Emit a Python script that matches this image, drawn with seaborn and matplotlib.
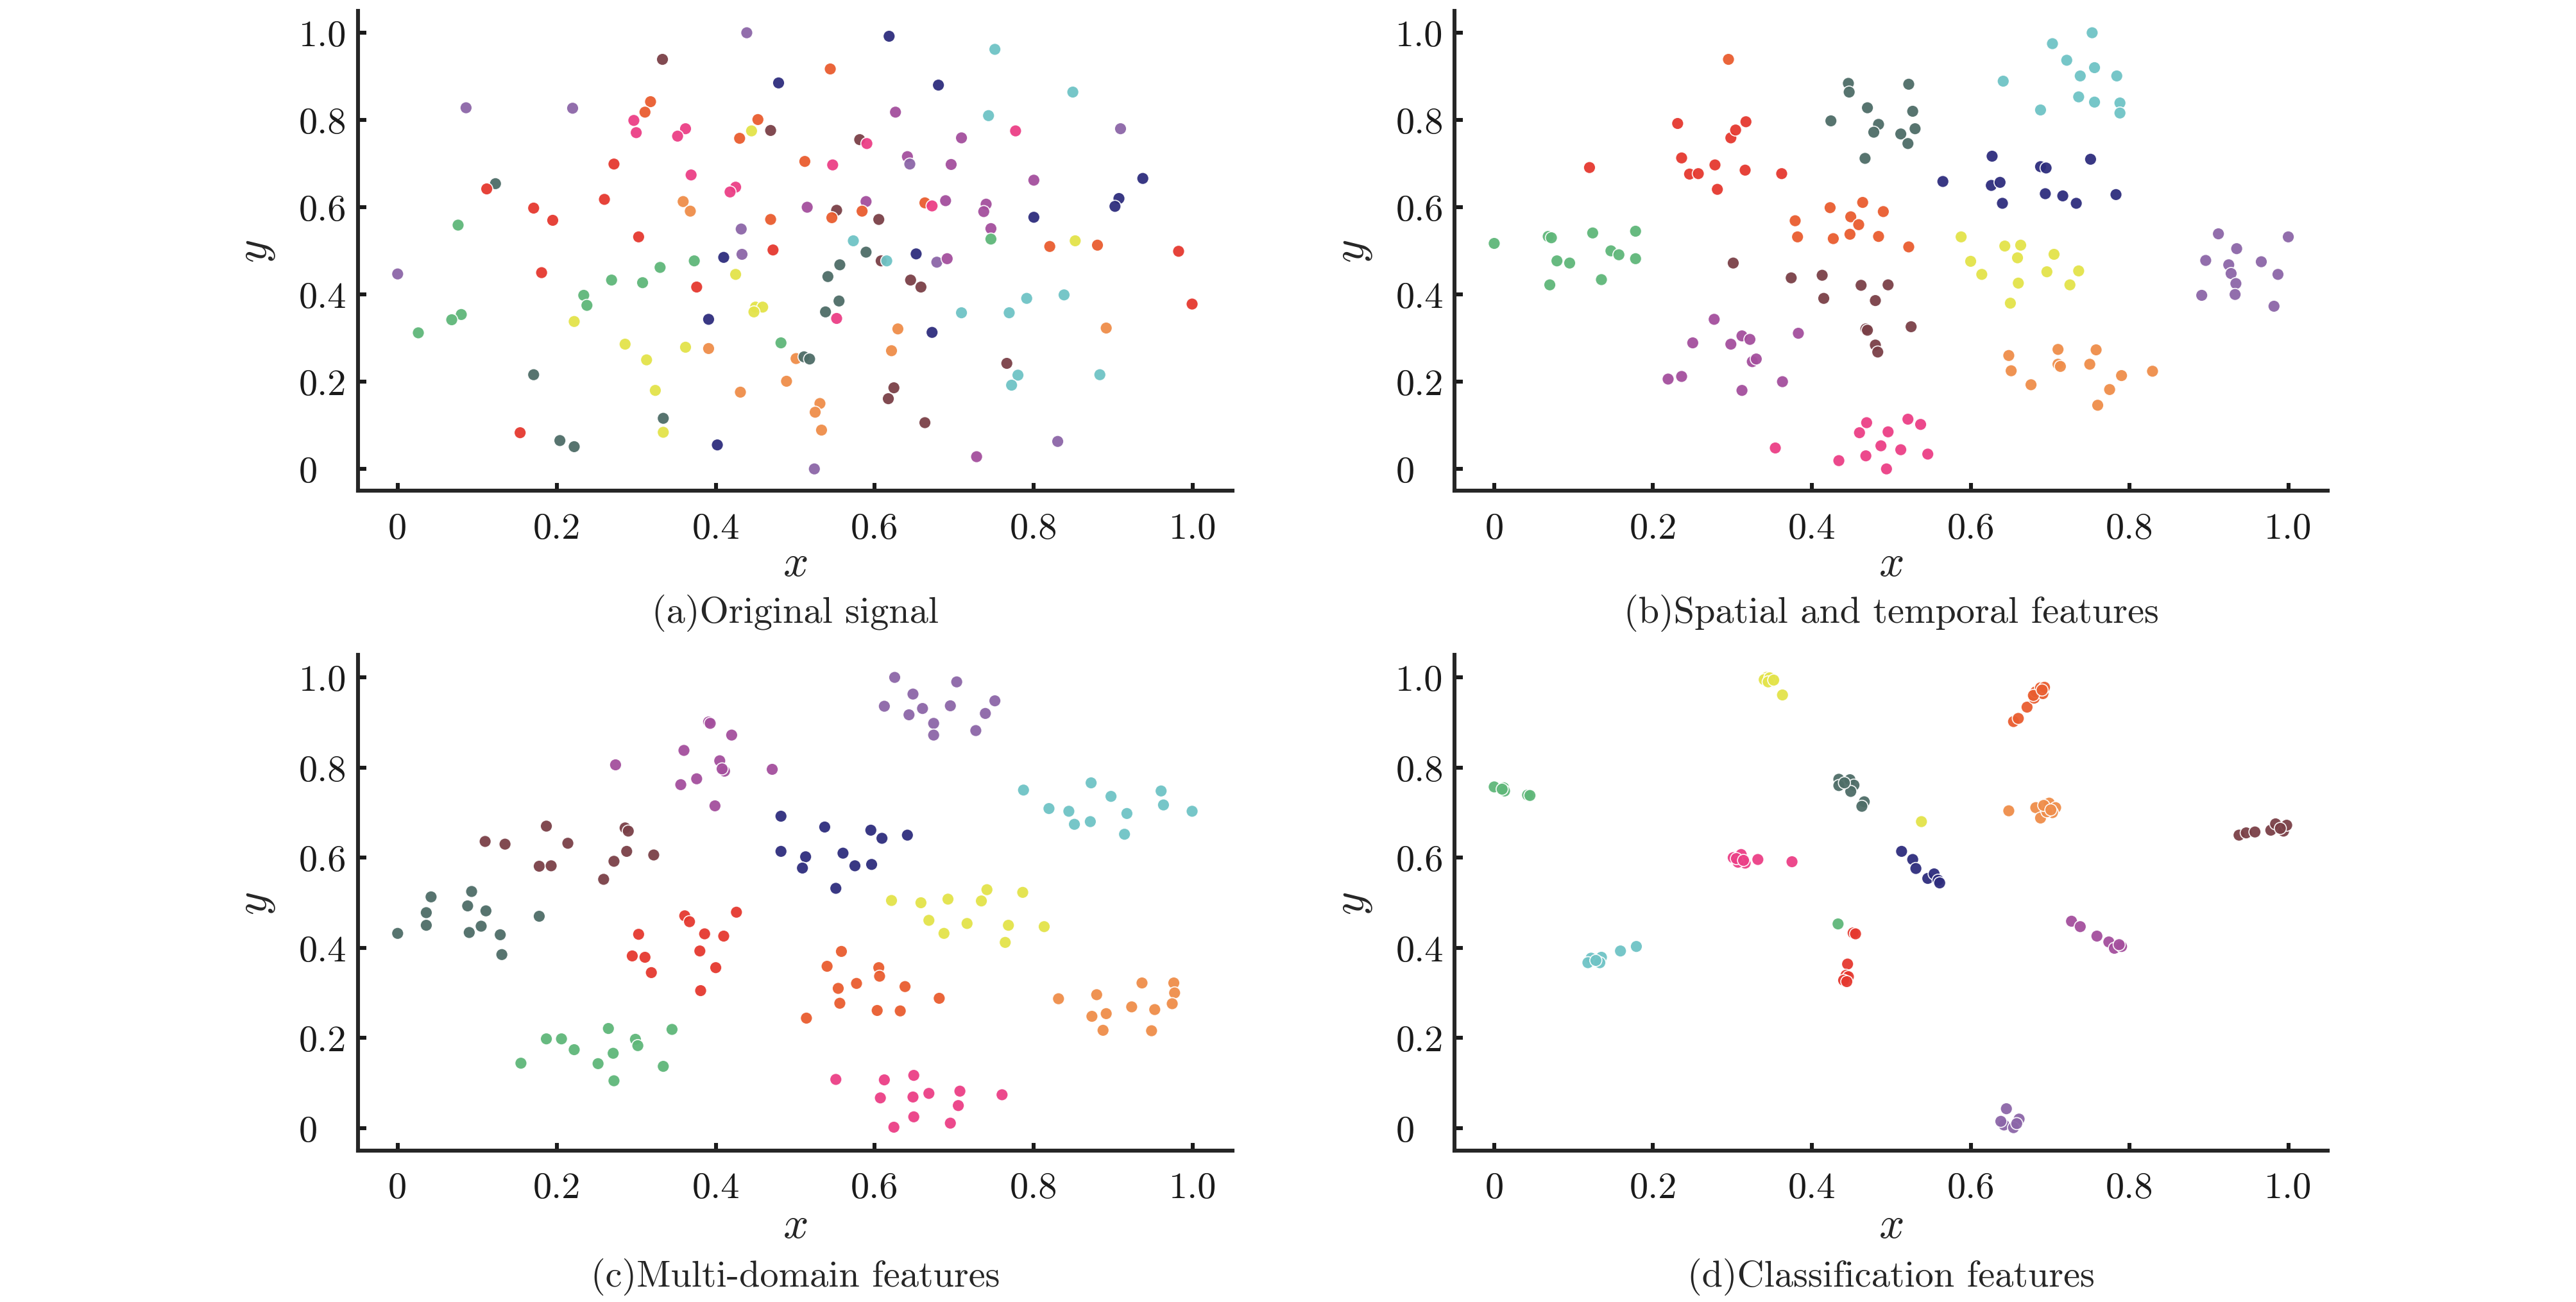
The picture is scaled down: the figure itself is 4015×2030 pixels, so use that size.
import numpy as np
import pandas as pd
import matplotlib
matplotlib.use("Agg")
import matplotlib.pyplot as plt
import seaborn as sns

# class colours
class_colors = {
    "R": "#e5392f",  # red
    "V": "#e95d2f",  # vermilion
    "P": "#eb3f86",  # pink
    "S": "#4e6d67",  # dark slate
    "N": "#2e2d7d",  # navy
    "C": "#6fc3c5",  # cyan
    "L": "#8c66a8",  # lavender
    "O": "#a44f9d",  # orchid
    "B": "#7a4047",  # brown
    "G": "#5fb779",  # green
    "Y": "#e3e34a",  # yellow
    "A": "#ef8d4a",  # light orange
}

tick_values = [0, 0.2, 0.4, 0.6, 0.8, 1.0]
tick_labels = ["0", "0.2", "0.4", "0.6", "0.8", "1.0"]
captions = ["(a)Original signal", "(b)Spatial and temporal features",
            "(c)Multi-domain features", "(d)Classification features"]

# (a) original signal
a_x = [0.439, 0.618, 0.751, 0.333, 0.544, 0.479, 0.680, 0.849, 0.086, 0.220,
       0.318, 0.311, 0.626, 0.297, 0.300, 0.362, 0.352, 0.453, 0.445, 0.469,
       0.430, 0.743, 0.777, 0.909, 0.581, 0.590, 0.709, 0.272, 0.512, 0.547,
       0.641, 0.644, 0.696, 0.369, 0.123, 0.112, 0.425, 0.418, 0.800, 0.937,
       0.260, 0.359, 0.368, 0.171, 0.195, 0.515, 0.589, 0.552, 0.546, 0.584,
       0.605, 0.663, 0.672, 0.689, 0.469, 0.740, 0.737, 0.800, 0.907, 0.902,
       0.076, 0.303, 0.432, 0.746, 0.746, 0.573, 0.852, 0.820, 0.880, 0.982,
       0.472, 0.410, 0.433, 0.589, 0.652, 0.608, 0.615, 0.678, 0.691, 0.373,
       0.330, 0.556, 0.000, 0.181, 0.425, 0.541, 0.269, 0.308, 0.376, 0.645,
       0.658, 0.234, 0.238, 0.838, 0.791, 0.999, 0.555, 0.450, 0.459, 0.448,
       0.538, 0.552, 0.709, 0.769, 0.080, 0.068, 0.222, 0.391, 0.026, 0.629,
       0.672, 0.891, 0.286, 0.362, 0.391, 0.482, 0.621, 0.313, 0.501, 0.511,
       0.518, 0.766, 0.171, 0.780, 0.883, 0.772, 0.489, 0.624, 0.324, 0.431,
       0.617, 0.531, 0.525, 0.334, 0.533, 0.334, 0.154, 0.663, 0.204, 0.222,
       0.402, 0.830, 0.728, 0.524]
a_y = [1.000, 0.992, 0.962, 0.939, 0.917, 0.885, 0.880, 0.864, 0.828, 0.827,
       0.842, 0.818, 0.818, 0.799, 0.771, 0.780, 0.763, 0.801, 0.775, 0.776,
       0.758, 0.810, 0.775, 0.780, 0.755, 0.746, 0.759, 0.699, 0.705, 0.697,
       0.716, 0.699, 0.698, 0.674, 0.654, 0.642, 0.646, 0.635, 0.662, 0.666,
       0.618, 0.613, 0.591, 0.598, 0.570, 0.600, 0.613, 0.593, 0.576, 0.591,
       0.572, 0.610, 0.603, 0.615, 0.572, 0.607, 0.590, 0.577, 0.620, 0.602,
       0.559, 0.532, 0.550, 0.551, 0.527, 0.523, 0.523, 0.510, 0.513, 0.499,
       0.502, 0.485, 0.492, 0.497, 0.493, 0.477, 0.477, 0.474, 0.482, 0.477,
       0.462, 0.468, 0.447, 0.450, 0.446, 0.441, 0.433, 0.427, 0.417, 0.433,
       0.417, 0.398, 0.375, 0.399, 0.391, 0.378, 0.385, 0.371, 0.371, 0.360,
       0.360, 0.345, 0.358, 0.358, 0.354, 0.342, 0.338, 0.343, 0.312, 0.321,
       0.313, 0.323, 0.286, 0.279, 0.276, 0.289, 0.271, 0.250, 0.253, 0.257,
       0.252, 0.242, 0.216, 0.215, 0.216, 0.192, 0.201, 0.186, 0.180, 0.176,
       0.161, 0.150, 0.130, 0.116, 0.089, 0.084, 0.083, 0.106, 0.065, 0.051,
       0.055, 0.063, 0.028, 0.000]
a_cls = list("LNCBVNNCLL" "VVOPPPPVYB" "VCPLBPORVP" "OLOPSRPPON"
             "RAARROOBVV" "BVPOVOONNN" "GRLOGCYVVR" "RNLSNBCLOG"
             "GSLRYSGGRB" "BGGCCRSYYY" "SPCCGGYNGA" "NAYYAGAYAS"
             "SBSCCCABYA" "BAASAYRBSS" "NLOL")

# (b) spatial and temporal features
b_x = [0.000, 0.068, 0.070, 0.079, 0.095, 0.124, 0.135, 0.147, 0.157, 0.178, 0.178, 0.072,
       0.231, 0.120, 0.236, 0.246, 0.257, 0.278, 0.281, 0.298, 0.304, 0.317, 0.316, 0.362,
       0.295, 0.423, 0.464, 0.490, 0.379, 0.382, 0.427, 0.449, 0.459, 0.448, 0.484, 0.522,
       0.446, 0.447, 0.424, 0.470, 0.484, 0.478, 0.467, 0.522, 0.527, 0.530, 0.512, 0.521,
       0.753, 0.703, 0.721, 0.738, 0.756, 0.784, 0.641, 0.736, 0.756, 0.788, 0.788, 0.688,
       0.565, 0.627, 0.626, 0.637, 0.640, 0.688, 0.695, 0.694, 0.716, 0.733, 0.751, 0.783,
       0.301, 0.374, 0.413, 0.415, 0.462, 0.496, 0.480, 0.468, 0.525, 0.480, 0.483, 0.470,
       0.588, 0.600, 0.614, 0.643, 0.663, 0.659, 0.660, 0.650, 0.696, 0.705, 0.725, 0.736,
       0.912, 0.896, 0.935, 0.925, 0.928, 0.934, 0.933, 0.891, 0.966, 0.987, 0.982, 1.000,
       0.277, 0.250, 0.298, 0.312, 0.322, 0.325, 0.330, 0.383, 0.219, 0.236, 0.312, 0.363,
       0.648, 0.651, 0.676, 0.710, 0.710, 0.713, 0.750, 0.758, 0.790, 0.775, 0.760, 0.829,
       0.354, 0.434, 0.460, 0.469, 0.468, 0.487, 0.496, 0.494, 0.512, 0.521, 0.537, 0.546]
b_y = [0.517, 0.533, 0.422, 0.477, 0.472, 0.541, 0.434, 0.500, 0.491, 0.545, 0.482, 0.530,
       0.792, 0.691, 0.713, 0.676, 0.677, 0.697, 0.641, 0.759, 0.777, 0.796, 0.685, 0.677,
       0.939, 0.599, 0.611, 0.590, 0.569, 0.532, 0.528, 0.578, 0.560, 0.538, 0.533, 0.509,
       0.884, 0.864, 0.798, 0.828, 0.790, 0.772, 0.712, 0.882, 0.820, 0.780, 0.768, 0.746,
       1.000, 0.975, 0.937, 0.901, 0.920, 0.901, 0.889, 0.853, 0.841, 0.839, 0.816, 0.823,
       0.659, 0.717, 0.650, 0.657, 0.609, 0.693, 0.690, 0.631, 0.626, 0.609, 0.710, 0.629,
       0.472, 0.438, 0.444, 0.391, 0.421, 0.422, 0.386, 0.321, 0.326, 0.284, 0.268, 0.318,
       0.532, 0.476, 0.446, 0.511, 0.513, 0.484, 0.426, 0.380, 0.452, 0.492, 0.422, 0.454,
       0.539, 0.478, 0.505, 0.468, 0.448, 0.425, 0.400, 0.398, 0.475, 0.446, 0.373, 0.532,
       0.343, 0.289, 0.286, 0.305, 0.297, 0.246, 0.252, 0.311, 0.206, 0.212, 0.180, 0.200,
       0.260, 0.225, 0.193, 0.274, 0.240, 0.235, 0.240, 0.273, 0.214, 0.182, 0.146, 0.224,
       0.048, 0.019, 0.083, 0.106, 0.030, 0.053, 0.085, 0.000, 0.044, 0.114, 0.102, 0.034]
b_cls = list("GGGGGGGGGGGG" "RRRRRRRRRRRR" "VVVVVVVVVVVV" "SSSSSSSSSSSS"
             "CCCCCCCCCCCC" "NNNNNNNNNNNN" "BBBBBBBBBBBB" "YYYYYYYYYYYY"
             "LLLLLLLLLLLL" "OOOOOOOOOOOO" "AAAAAAAAAAAA" "PPPPPPPPPPPP")

# (c) multi-domain features
c_x = [0.625, 0.648, 0.612, 0.643, 0.660, 0.674, 0.674, 0.695, 0.703, 0.727, 0.739, 0.751,
       0.391, 0.420, 0.360, 0.274, 0.405, 0.411, 0.376, 0.356, 0.471, 0.399, 0.408, 0.393,
       0.787, 0.819, 0.844, 0.851, 0.872, 0.871, 0.897, 0.917, 0.914, 0.960, 0.963, 0.999,
       0.482, 0.482, 0.513, 0.509, 0.537, 0.560, 0.551, 0.575, 0.596, 0.595, 0.609, 0.641,
       0.187, 0.110, 0.135, 0.178, 0.193, 0.214, 0.259, 0.272, 0.288, 0.286, 0.290, 0.322,
       0.000, 0.036, 0.036, 0.042, 0.088, 0.093, 0.090, 0.105, 0.111, 0.129, 0.131, 0.178,
       0.621, 0.658, 0.692, 0.734, 0.741, 0.786, 0.668, 0.716, 0.687, 0.768, 0.813, 0.764,
       0.361, 0.367, 0.426, 0.386, 0.410, 0.303, 0.295, 0.311, 0.380, 0.319, 0.400, 0.381,
       0.558, 0.540, 0.605, 0.606, 0.554, 0.577, 0.638, 0.681, 0.556, 0.603, 0.632, 0.514,
       0.831, 0.879, 0.873, 0.891, 0.887, 0.923, 0.936, 0.952, 0.948, 0.976, 0.977, 0.974,
       0.155, 0.187, 0.206, 0.222, 0.252, 0.265, 0.271, 0.272, 0.299, 0.302, 0.334, 0.345,
       0.551, 0.612, 0.649, 0.607, 0.648, 0.668, 0.707, 0.705, 0.760, 0.649, 0.624, 0.695]
c_y = [1.000, 0.963, 0.936, 0.917, 0.931, 0.898, 0.872, 0.937, 0.990, 0.882, 0.920, 0.948,
       0.901, 0.872, 0.838, 0.806, 0.815, 0.792, 0.775, 0.762, 0.796, 0.715, 0.797, 0.898,
       0.750, 0.709, 0.703, 0.674, 0.766, 0.680, 0.736, 0.698, 0.652, 0.748, 0.717, 0.703,
       0.692, 0.614, 0.602, 0.577, 0.668, 0.610, 0.532, 0.582, 0.585, 0.661, 0.643, 0.650,
       0.670, 0.636, 0.630, 0.581, 0.582, 0.632, 0.552, 0.592, 0.614, 0.666, 0.659, 0.606,
       0.432, 0.478, 0.450, 0.513, 0.493, 0.525, 0.434, 0.448, 0.482, 0.429, 0.385, 0.470,
       0.505, 0.500, 0.508, 0.504, 0.529, 0.523, 0.461, 0.454, 0.432, 0.450, 0.447, 0.412,
       0.471, 0.458, 0.479, 0.431, 0.426, 0.430, 0.382, 0.379, 0.393, 0.345, 0.356, 0.305,
       0.392, 0.359, 0.356, 0.337, 0.310, 0.321, 0.314, 0.288, 0.277, 0.261, 0.260, 0.244,
       0.287, 0.296, 0.248, 0.254, 0.217, 0.269, 0.322, 0.263, 0.216, 0.322, 0.300, 0.276,
       0.144, 0.198, 0.198, 0.174, 0.143, 0.221, 0.166, 0.105, 0.197, 0.183, 0.137, 0.219,
       0.108, 0.107, 0.117, 0.067, 0.069, 0.077, 0.082, 0.050, 0.074, 0.025, 0.002, 0.011]
c_cls = list("LLLLLLLLLLLL" "OOOOOOOOOOOO" "CCCCCCCCCCCC" "NNNNNNNNNNNN"
             "BBBBBBBBBBBB" "SSSSSSSSSSSS" "YYYYYYYYYYYY" "RRRRRRRRRRRR"
             "VVVVVVVVVVVV" "AAAAAAAAAAAA" "GGGGGGGGGGGG" "PPPPPPPPPPPP")

# (d) classification features (tight clusters, many points overlap)
d_x = [0.343, 0.351, 0.363, 0.538, 0.340, 0.347, 0.345, 0.352,
       0.654, 0.660, 0.671, 0.680, 0.682, 0.691, 0.688, 0.693, 0.679, 0.690,
       0.000, 0.012, 0.013, 0.042, 0.045, 0.433, 0.010,
       0.434, 0.448, 0.434, 0.453, 0.449, 0.466, 0.463, 0.441,
       0.648, 0.682, 0.699, 0.707, 0.703, 0.688, 0.696, 0.692, 0.701,
       0.938, 0.947, 0.958, 0.978, 0.984, 0.994, 0.998, 0.990,
       0.301, 0.311, 0.316, 0.307, 0.332, 0.375, 0.305, 0.314,
       0.513, 0.527, 0.531, 0.546, 0.554, 0.559, 0.561,
       0.452, 0.445, 0.443, 0.446, 0.440, 0.444, 0.455,
       0.122, 0.135, 0.118, 0.133, 0.159, 0.179, 0.128,
       0.727, 0.738, 0.759, 0.774, 0.781, 0.790, 0.787,
       0.645, 0.661, 0.642, 0.654, 0.658, 0.638]
d_y = [1.000, 0.992, 0.961, 0.680, 0.995, 0.999, 0.990, 0.994,
       0.902, 0.909, 0.934, 0.954, 0.968, 0.964, 0.977, 0.978, 0.960, 0.972,
       0.757, 0.755, 0.748, 0.739, 0.738, 0.453, 0.752,
       0.774, 0.773, 0.760, 0.761, 0.747, 0.724, 0.714, 0.766,
       0.704, 0.711, 0.721, 0.711, 0.700, 0.688, 0.702, 0.716, 0.706,
       0.650, 0.655, 0.657, 0.661, 0.675, 0.659, 0.672, 0.665,
       0.600, 0.607, 0.588, 0.590, 0.596, 0.591, 0.598, 0.594,
       0.614, 0.596, 0.576, 0.554, 0.564, 0.550, 0.544,
       0.433, 0.364, 0.339, 0.336, 0.328, 0.325, 0.431,
       0.377, 0.379, 0.367, 0.367, 0.393, 0.403, 0.372,
       0.459, 0.447, 0.426, 0.413, 0.399, 0.403, 0.407,
       0.043, 0.020, 0.007, 0.001, 0.010, 0.015]
d_cls = list("YYYYYYYY" "VVVVVVVVVV" "GGGGGGG" "SSSSSSSS" "AAAAAAAAA"
             "BBBBBBBB" "PPPPPPPP" "NNNNNNN" "RRRRRRR" "CCCCCCC"
             "OOOOOOO" "LLLLLL")

sns.set_style("ticks")
plt.rcParams["font.family"] = ["cmr10", "DejaVu Serif"]
plt.rcParams["mathtext.fontset"] = "cm"

fig = plt.figure(figsize=(20.08, 10.155), dpi=200)

boxes = [[0.1389, 0.6228, 0.3395, 0.3683],
         [0.5645, 0.6228, 0.3390, 0.3683],
         [0.1389, 0.1162, 0.3395, 0.3806],
         [0.5645, 0.1162, 0.3390, 0.3806]]
panels = [(a_x, a_y, a_cls), (b_x, b_y, b_cls), (c_x, c_y, c_cls), (d_x, d_y, d_cls)]

for (px, py, pc), box, cap in zip(panels, boxes, captions):
    ax = fig.add_axes(box)
    df = pd.DataFrame({"x": px, "y": py, "cls": pc})
    sns.scatterplot(data=df, x="x", y="y", hue="cls", palette=class_colors,
                    s=46, edgecolor="white", linewidth=0.6, alpha=0.95,
                    legend=False, ax=ax)
    ax.set_xlim(-0.05, 1.05)
    ax.set_ylim(-0.05, 1.05)
    ax.set_xticks(tick_values)
    ax.set_xticklabels(tick_labels)
    ax.set_yticks(tick_values)
    ax.set_yticklabels(tick_labels, ha="left")
    sns.despine(ax=ax)
    for side in ["left", "bottom"]:
        ax.spines[side].set_linewidth(2.2)
    ax.tick_params(direction="in", length=4.5, width=2.2, labelsize=21, colors="#1a1a1a")
    ax.tick_params(axis="x", pad=12)
    ax.tick_params(axis="y", pad=33)
    ax.set_xlabel("$x$", fontsize=25)
    ax.set_ylabel("$y$", fontsize=25)
    ax.xaxis.set_label_coords(0.5, -0.112)
    ax.yaxis.set_label_coords(-0.092, 0.5)
    ax.text(0.5, -0.254, cap, transform=ax.transAxes, ha="center", va="center",
            fontsize=21)

fig.savefig("out.png", dpi=200)
